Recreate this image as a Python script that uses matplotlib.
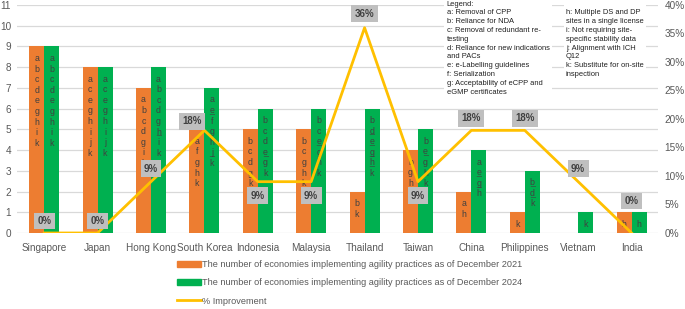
import numpy as np
import matplotlib
matplotlib.use("Agg")
import matplotlib.pyplot as plt
from matplotlib.patches import Patch
from matplotlib.lines import Line2D

plt.rcParams['font.family'] = ['Liberation Sans Narrow', 'Liberation Sans', 'DejaVu Sans']

economies = ["Singapore", "Japan", "Hong Kong", "South Korea", "Indonesia", "Malaysia",
             "Thailand", "Taiwan", "China", "Philippines", "Vietnam", "India"]
count_2021 = [9, 8, 7, 5, 5, 5, 2, 4, 2, 1, 0, 1]
count_2024 = [9, 8, 8, 7, 6, 6, 6, 5, 4, 3, 1, 1]
improvement = [0.00, 0.00, 0.09, 0.18, 0.09, 0.09, 0.36, 0.09, 0.18, 0.18, 0.09, 0.00]

practices_2021 = ["abcdeghik", "aceghijk", "abcdgik", "afghk", "bcdgk", "bcghk",
                  "bk", "bghk", "ah", "k", "", "h"]
practices_2024 = ["abcdeghik", "aceghijk", "abcdghik", "aefghjk", "bcdegk", "bceghk",
                  "bdeghk", "beghk", "aegh", "bdk", "k", "h"]

legend_col1 = ("Legend:\na: Removal of CPP\nb: Reliance for NDA\nc: Removal of redundant re-\ntesting\n"
               "d: Reliance for new indications\nand PACs\ne: e-Labelling guidelines\nf: Serialization\n"
               "g: Acceptability of eCPP and\neGMP certificates")
legend_col2 = ("\nh: Multiple DS and DP\nsites in a single license\ni: Not requiring site-\n"
               "specific stability data\nj: Alignment with ICH\nQ12\nk: Substitute for on-site\ninspection")

ORANGE = "#ED7D31"
GREEN = "#00B050"
YELLOW = "#FFC000"
TXT = "#595959"

fig = plt.figure(figsize=(6.85, 3.09), dpi=100)
ax = fig.add_axes([0.0255, 0.246, 0.9355, 0.738])
x = np.arange(len(economies))
w = 0.28

ax.bar(x - w / 2, count_2021, w, color=ORANGE, zorder=2)
ax.bar(x + w / 2, count_2024, w, color=GREEN, zorder=2)

# letters stacked inside each bar, new practices underlined
for i in range(len(economies)):
    for off, vals, letters in ((-w / 2, count_2021, practices_2021[i]),
                               (w / 2, count_2024, practices_2024[i])):
        for j, ch in enumerate(letters):
            ax.annotate(ch, (x[i] + off, vals[i]), xytext=(0, -14.5 - j * 10.6),
                        textcoords='offset pixels', ha='center', va='baseline',
                        fontsize=6.3, color="#404040", zorder=3)
            if off > 0 and practices_2021[i] and ch not in practices_2021[i]:
                ax.annotate("_", (x[i] + off, vals[i]), xytext=(0, -14.5 - j * 10.6),
                            textcoords='offset pixels', ha='center', va='baseline',
                            fontsize=6.3, color="#404040", zorder=3)

ax.set_xlim(-0.5, len(economies) - 0.5)
ax.set_ylim(0, 11)
ax.set_yticks(range(0, 12))
ax.grid(axis='y', color="#D9D9D9", linewidth=0.9, zorder=0)
ax.set_axisbelow(True)
for s in ax.spines.values():
    s.set_visible(False)
ax.tick_params(length=0, labelsize=7.2, colors=TXT)
ax.tick_params(axis='y', pad=4.5)
ax.tick_params(axis='x', pad=7)
ax.set_xticks(x)
ax.set_xticklabels(economies)

ax2 = ax.twinx()
ax2.plot(x, improvement, color=YELLOW, linewidth=2.0, zorder=4)
ax2.set_ylim(0, 0.40)
ax2.set_yticks(np.arange(0, 0.41, 0.05))
ax2.set_yticklabels([f"{int(round(v * 100))}%" for v in np.arange(0, 0.41, 0.05)])
for s in ax2.spines.values():
    s.set_visible(False)
ax2.tick_params(length=0, labelsize=7.2, colors=TXT, pad=4.5)

label_offsets = [(0, 12), (0, 12), (0, 13), (-12, 9), (0, -14), (0, -14),
                 (0, 14), (0, -14), (0, 12), (0, 12), (0, 13), (0, 32)]
for i, v in enumerate(improvement):
    ax2.annotate(f"{int(round(v * 100))}%", (x[i], v), xytext=label_offsets[i],
                 textcoords='offset pixels', ha='center', va='center',
                 fontsize=7, fontweight='bold', color="#404040", zorder=5,
                 bbox=dict(boxstyle='square,pad=0.35', facecolor="#BFBFBF", edgecolor='none'))

# practice legend box in the upper right
fig.text(0.652, 0.998, legend_col1, ha='left', va='top', fontsize=5.4, color="#202020",
         linespacing=1.36, zorder=10,
         bbox=dict(boxstyle='square,pad=0.3', facecolor='white', edgecolor='none'))
fig.text(0.826, 0.998, legend_col2, ha='left', va='top', fontsize=5.4, color="#202020",
         linespacing=1.36, zorder=11,
         bbox=dict(boxstyle='square,pad=0.3', facecolor='white', edgecolor='none'))

handles = [Patch(color=ORANGE), Patch(color=GREEN), Line2D([], [], color=YELLOW, linewidth=2)]
labels = ["The number of economies implementing agility practices as of December 2021",
          "The number of economies implementing agility practices as of December 2024",
          "% Improvement"]
leg = fig.legend(handles, labels, loc='upper left', bbox_to_anchor=(0.258, 0.158),
                 frameon=False, fontsize=6.6, handlelength=2.6, handleheight=0.7,
                 labelspacing=1.0, handletextpad=0.2, borderaxespad=0, borderpad=0)
for t in leg.get_texts():
    t.set_color(TXT)

fig.savefig("out.png", dpi=100)
